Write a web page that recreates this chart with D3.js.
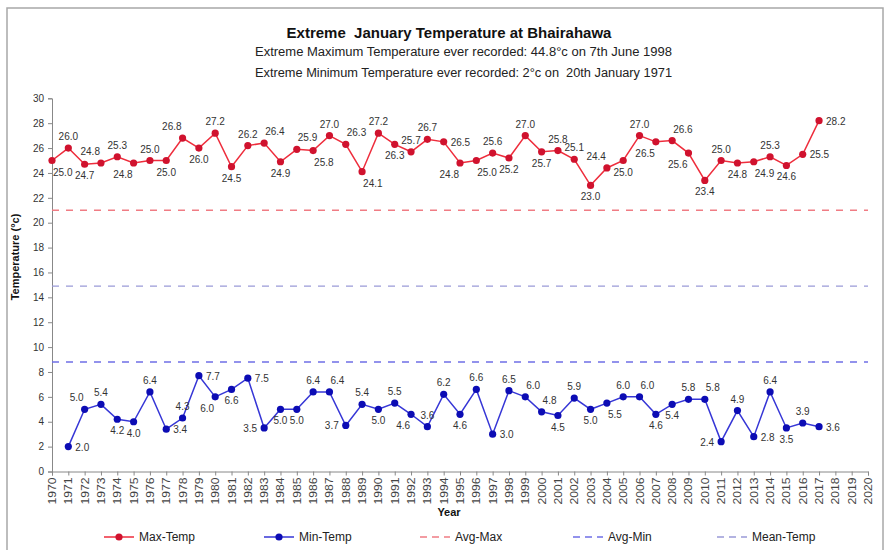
<!DOCTYPE html>
<html>
<head>
<meta charset="utf-8">
<script src="https://cdn.jsdelivr.net/npm/d3@7"></script>
<style>
  body { margin: 0; background: #fff; }
  svg { display: block; font-family: Arial, "Liberation Sans", sans-serif; }
</style>
</head>
<body>
<svg id="chart" width="891" height="550"></svg>
<script>
// January extreme temperatures at Bhairahawa (°C)
const maxStartYear = 1970;
const maxTemp = [
  25.0, 26.0, 24.7, 24.8, 25.3, 24.8, 25.0, 25.0, 26.8, 26.0,
  27.2, 24.5, 26.2, 26.4, 24.9, 25.9, 25.8, 27.0, 26.3, 24.1,
  27.2, 26.3, 25.7, 26.7, 26.5, 24.8, 25.0, 25.6, 25.2, 27.0,
  25.7, 25.8, 25.1, 23.0, 24.4, 25.0, 27.0, 26.5, 26.6, 25.6,
  23.4, 25.0, 24.8, 24.9, 25.3, 24.6, 25.5, 28.2
];
const minStartYear = 1971;
const minTemp = [
  2.0, 5.0, 5.4, 4.2, 4.0, 6.4, 3.4, 4.3, 7.7,
  6.0, 6.6, 7.5, 3.5, 5.0, 5.0, 6.4, 6.4, 3.7, 5.4,
  5.0, 5.5, 4.6, 3.6, 6.2, 4.6, 6.6, 3.0, 6.5, 6.0,
  4.8, 4.5, 5.9, 5.0, 5.5, 6.0, 6.0, 4.6, 5.4, 5.8,
  5.8, 2.4, 4.9, 2.8, 6.4, 3.5, 3.9, 3.6
];
const refNames = ["Avg-Max", "Avg-Min", "Mean-Temp"];
const refValues = [21.0, 8.8, 14.9];

const yearTicks = d3.range(1970, 2021);
const tempTicks = d3.range(0, 31, 2);

// where each value label sits relative to its marker
// a above, b below, l left, r right, ar/al above right/left, br/bl below right/left
const maxLabelSide = ("br a b al a bl a b al b " +
  "a b a ar b ar br a ar br " +
  "a b a a r bl br a b a " +
  "b a a b al b a bl ar bl " +
  "b a b br a b r r").split(" ");
const minLabelSide = ("r al a b b a r a r bl " +
  "b r l b b a ar l a b " +
  "a bl a a b a r a ar ar " +
  "b a b br a ar b b a ar " +
  "l a r a b a r").split(" ");

const sideOffset = {
  a:  { dx: 0,  dy: -8, anchor: "middle" },
  b:  { dx: 0,  dy: 15, anchor: "middle" },
  l:  { dx: -7, dy: 4,  anchor: "end" },
  r:  { dx: 7,  dy: 4,  anchor: "start" },
  ar: { dx: 1,  dy: -8, anchor: "start" },
  al: { dx: -1, dy: -8, anchor: "end" },
  br: { dx: 1,  dy: 15, anchor: "start" },
  bl: { dx: -1, dy: 15, anchor: "end" }
};

const svg = d3.select("#chart");

// outer frame
svg.append("rect")
  .attr("x", 7).attr("y", 8).attr("width", 876).attr("height", 560)
  .attr("fill", "none").attr("stroke", "#a8a8a8").attr("stroke-width", 1.5);

// titles
svg.append("text").attr("x", 449).attr("y", 38)
  .attr("text-anchor", "middle").attr("font-size", 15).attr("font-weight", "bold")
  .attr("fill", "#111").attr("xml:space", "preserve")
  .text("Extreme  January Temperature at Bhairahawa");
svg.append("text").attr("x", 463.5).attr("y", 56)
  .attr("text-anchor", "middle").attr("font-size", 12).attr("fill", "#222")
  .attr("textLength", 417).attr("lengthAdjust", "spacingAndGlyphs")
  .text("Extreme Maximum Temperature ever recorded: 44.8°c on 7th June 1998");
svg.append("text").attr("x", 463.5).attr("y", 77)
  .attr("text-anchor", "middle").attr("font-size", 12).attr("fill", "#222")
  .attr("textLength", 417).attr("lengthAdjust", "spacingAndGlyphs")
  .attr("xml:space", "preserve")
  .text("Extreme Minimum Temperature ever recorded: 2°c on  20th January 1971");

// scales
const x = d3.scaleLinear().domain([1970, 2020]).range([52, 868]);
const y = d3.scaleLinear().domain([0, 30]).range([471.5, 98.3]);

// y axis
const yAxis = svg.append("g").attr("transform", "translate(52,0)")
  .call(d3.axisLeft(y).tickValues(tempTicks).tickSize(4).tickPadding(4));
yAxis.select(".domain").attr("stroke", "#888");
yAxis.selectAll(".tick line").attr("stroke", "#888");
yAxis.selectAll(".tick text").attr("font-size", 10).attr("fill", "#333")
  .attr("font-family", "Arial, 'Liberation Sans', sans-serif");

// x axis
const xAxis = svg.append("g").attr("transform", "translate(0,471.5)")
  .call(d3.axisBottom(x).tickValues(yearTicks).tickFormat(d3.format("d")).tickSize(4));
xAxis.select(".domain").attr("stroke", "#888");
xAxis.selectAll(".tick line").attr("stroke", "#888");
xAxis.selectAll(".tick text")
  .attr("font-size", 10).attr("fill", "#444")
  .attr("font-family", "Arial, 'Liberation Sans', sans-serif")
  .attr("text-anchor", "end")
  .attr("x", -6).attr("y", 0).attr("dy", "0.35em")
  .attr("textLength", 27).attr("lengthAdjust", "spacingAndGlyphs")
  .attr("transform", "rotate(-90)");

// axis titles
svg.append("text")
  .attr("transform", "translate(19,257) rotate(-90)")
  .attr("text-anchor", "middle").attr("font-size", 11).attr("font-weight", "bold")
  .attr("fill", "#111").text("Temperature (°c)");
svg.append("text").attr("x", 449).attr("y", 516)
  .attr("text-anchor", "middle").attr("font-size", 11).attr("font-weight", "bold")
  .attr("fill", "#111").text("Year");

// reference lines
const refStyles = [
  { color: "#f07c84", dash: "7,7" },
  { color: "#6f6fe6", dash: "7,7" },
  { color: "#9a9ad8", dash: "7,7" }
];
refValues.forEach((v, i) => {
  svg.append("line")
    .attr("x1", x(1970)).attr("x2", x(2020))
    .attr("y1", y(v)).attr("y2", y(v))
    .attr("stroke", refStyles[i].color).attr("stroke-width", 1.4)
    .attr("stroke-dasharray", refStyles[i].dash);
});

// series
const series = [
  { name: "Max-Temp", start: maxStartYear, values: maxTemp, sides: maxLabelSide,
    line: "#ee2d3c", marker: "#d0122e" },
  { name: "Min-Temp", start: minStartYear, values: minTemp, sides: minLabelSide,
    line: "#3636d6", marker: "#0c0cb4" }
];

const lineGen = d3.line().x(d => x(d.year)).y(d => y(d.value));

series.forEach(s => {
  const pts = s.values.map((v, i) => ({ year: s.start + i, value: v, side: sideOffset[s.sides[i]] }));
  svg.append("path").datum(pts)
    .attr("d", lineGen).attr("fill", "none")
    .attr("stroke", s.line).attr("stroke-width", 1.5);
  svg.append("g").selectAll("circle").data(pts).join("circle")
    .attr("cx", d => x(d.year)).attr("cy", d => y(d.value))
    .attr("r", 3.6).attr("fill", s.marker);
  svg.append("g").selectAll("text").data(pts).join("text")
    .attr("font-size", 10).attr("fill", "#333")
    .attr("x", d => x(d.year) + d.side.dx)
    .attr("y", d => y(d.value) + d.side.dy)
    .attr("text-anchor", d => d.side.anchor)
    .text(d => d.value.toFixed(1));
});

// legend
const legendY = 537;
const legendItems = [
  { name: "Max-Temp", x: 104, color: "#ee2d3c", marker: "#d0122e", dash: null },
  { name: "Min-Temp", x: 264, color: "#3636d6", marker: "#0c0cb4", dash: null },
  { name: refNames[0], x: 420, color: refStyles[0].color, dash: "7,5" },
  { name: refNames[1], x: 573, color: refStyles[1].color, dash: "7,5" },
  { name: refNames[2], x: 717, color: refStyles[2].color, dash: "7,5" }
];
legendItems.forEach(it => {
  const g = svg.append("g");
  g.append("line").attr("x1", it.x).attr("x2", it.x + 30)
    .attr("y1", legendY).attr("y2", legendY)
    .attr("stroke", it.color).attr("stroke-width", 1.5)
    .attr("stroke-dasharray", it.dash);
  if (it.marker) {
    g.append("circle").attr("cx", it.x + 15).attr("cy", legendY).attr("r", 3.6)
      .attr("fill", it.marker);
  }
  g.append("text").attr("x", it.x + 35).attr("y", legendY + 4)
    .attr("font-size", 12).attr("fill", "#222").text(it.name);
});
</script>
</body>
</html>
